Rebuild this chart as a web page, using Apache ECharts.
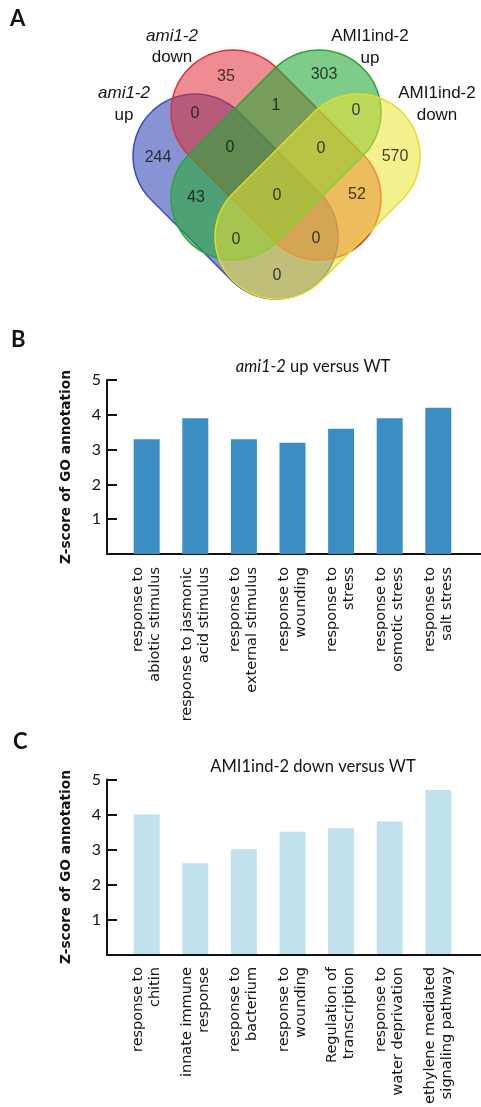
<!DOCTYPE html>
<html><head><meta charset="utf-8">
<script src="https://cdn.jsdelivr.net/npm/echarts@6/dist/echarts.min.js"></script>
<style>html,body{margin:0;padding:0;background:#fff}#c{width:481px;height:1107px}</style>
</head><body><div id="c"></div>
<script>
// ---------- DATA ----------
// Panel A: Venn diagram
const vennSetNames = ['ami1-2 up', 'ami1-2 down', 'AMI1ind-2 up', 'AMI1ind-2 down'];
const vennRegions = ['up only', 'down only', 'ind up only', 'ind down only',
  'up∩down', 'down∩indUp', 'indUp∩indDown', 'up∩down∩indUp', 'down∩indUp∩indDown',
  'up∩indUp', 'all four', 'down∩indDown', 'up∩indUp∩indDown', 'up∩down∩indDown', 'up∩indDown'];
const vennCounts = [244, 35, 303, 570, 0, 1, 0, 0, 0, 43, 0, 52, 0, 0, 0];

// Panel B
const categoriesB = ['response to\nabiotic stimulus', 'response to jasmonic\nacid stimulus',
  'response to\nexternal stimulus', 'response to\nwounding', 'response to\nstress',
  'response to\nosmotic stress', 'response to\nsalt stress'];
const zScoresB = [3.3, 3.9, 3.3, 3.2, 3.6, 3.9, 4.2];

// Panel C
const categoriesC = ['response to\nchitin', 'innate immune\nresponse', 'response to\nbacterium',
  'response to\nwounding', 'Regulation of\ntranscription', 'response to\nwater deprivation',
  'ethylene mediated\nsignaling pathway'];
const zScoresC = [4.0, 2.6, 3.0, 3.5, 3.6, 3.8, 4.7];

const yAxisMax = 5;
const yAxisStep = 1;

// ---------- LAYOUT / STYLE ----------
const vennShapes = [ // capsule end centres in the 481x310 venn plane, radius
  [195, 156, 276, 237, 62],
  [233, 112, 319, 198, 62],
  [319, 112, 233, 198, 62],
  [358, 156, 277, 237, 62]
];
const vennStyles = [
  { fill: 'rgba(55,75,180,0.6)', stroke: '#3b4fbf' },
  { fill: 'rgba(222,45,55,0.55)', stroke: '#e0343c' },
  { fill: 'rgba(40,170,55,0.6)', stroke: '#2aa43c' },
  { fill: 'rgba(236,228,50,0.55)', stroke: '#e2dc2a' }
];
const vennLabelPos = [[158,158],[226,77],[324,75],[395,157],[195,114],[276,106],[356,111],
  [230,148],[321,149],[196,198],[277,196],[357,195],[236,240],[316,239],[277,276]];

const FONT = 'Lato';
const RFONT = 'DejaVu Sans';
const VFONT = 'Liberation Sans';
const TXT = '#141414';
const barColorB = '#3a8ec4';
const barColorC = '#c2e1ef';

function frameAxes(gi) {
  return {
    x: { type: 'value', gridIndex: gi, min: 0, max: 1, axisLine: { show: true, onZero: false, lineStyle: { color: '#111', width: 2 } },
         axisTick: { show: false }, axisLabel: { show: false }, splitLine: { show: false } },
    y: { type: 'value', gridIndex: gi, min: 0, max: yAxisMax, interval: yAxisStep,
         axisLine: { show: true, lineStyle: { color: '#111', width: 2 } },
         axisTick: { show: true, inside: true, length: 10, lineStyle: { color: '#111', width: 2 } },
         axisLabel: { fontSize: 16, fontFamily: FONT, color: TXT, margin: 6, formatter: v => v === 0 ? '' : String(v) },
         splitLine: { show: false },
         name: 'Z-score of GO annotation', nameLocation: 'middle', nameGap: 34,
         nameTextStyle: { fontSize: 13.7, fontWeight: 'bold', fontFamily: RFONT, color: TXT } }
  };
}
function mainAxes(gi, cats) {
  return {
    x: { type: 'category', gridIndex: gi, data: cats, axisLine: { show: false }, axisTick: { show: false },
         axisLabel: { interval: 0, rotate: 90, fontSize: 14.5, lineHeight: 17, fontFamily: RFONT, color: TXT, margin: 13 } },
    y: { type: 'value', gridIndex: gi, min: 0, max: yAxisMax, show: false }
  };
}
const fB = frameAxes(1), mB = mainAxes(2, categoriesB), fC = frameAxes(3), mC = mainAxes(4, categoriesC);

const chart = echarts.init(document.getElementById('c'), null, { renderer: 'canvas' });
chart.setOption({
  animation: false,
  backgroundColor: '#fff',
  grid: [
    { left: 0, top: 0, width: 481, height: 310 },
    { left: 107, top: 380, width: 374, height: 174 },
    { left: 122.4, top: 380, width: 340.2, height: 174 },
    { left: 107, top: 779.5, width: 374, height: 175 },
    { left: 122.4, top: 779.5, width: 340.2, height: 175 }
  ],
  xAxis: [
    { type: 'value', gridIndex: 0, min: 0, max: 481, show: false },
    fB.x, mB.x, fC.x, mC.x
  ],
  yAxis: [
    { type: 'value', gridIndex: 0, min: 0, max: 310, inverse: true, show: false },
    fB.y, mB.y, fC.y, mC.y
  ],
  graphic: [
    { type: 'text', x: 10, y: 19, style: { text: 'A', fontSize: 22, fontWeight: 'bold', fontFamily: FONT, fill: '#111', verticalAlign: 'middle' } },
    { type: 'text', x: 11, y: 340, style: { text: 'B', fontSize: 22, fontWeight: 'bold', fontFamily: FONT, fill: '#111', verticalAlign: 'middle' } },
    { type: 'text', x: 13, y: 742, style: { text: 'C', fontSize: 22, fontWeight: 'bold', fontFamily: FONT, fill: '#111', verticalAlign: 'middle' } },
    { type: 'text', x: 124, y: 93, style: { text: 'ami1-2', fontSize: 17, fontStyle: 'italic', fontFamily: VFONT, fill: TXT, align: 'center', verticalAlign: 'middle' } },
    { type: 'text', x: 124, y: 115, style: { text: 'up', fontSize: 17, fontFamily: VFONT, fill: TXT, align: 'center', verticalAlign: 'middle' } },
    { type: 'text', x: 172, y: 36, style: { text: 'ami1-2', fontSize: 17, fontStyle: 'italic', fontFamily: VFONT, fill: TXT, align: 'center', verticalAlign: 'middle' } },
    { type: 'text', x: 172, y: 57, style: { text: 'down', fontSize: 17, fontFamily: VFONT, fill: TXT, align: 'center', verticalAlign: 'middle' } },
    { type: 'text', x: 370, y: 36, style: { text: 'AMI1ind-2', fontSize: 17, fontFamily: VFONT, fill: TXT, align: 'center', verticalAlign: 'middle' } },
    { type: 'text', x: 370, y: 58, style: { text: 'up', fontSize: 17, fontFamily: VFONT, fill: TXT, align: 'center', verticalAlign: 'middle' } },
    { type: 'text', x: 437, y: 93, style: { text: 'AMI1ind-2', fontSize: 17, fontFamily: VFONT, fill: TXT, align: 'center', verticalAlign: 'middle' } },
    { type: 'text', x: 437, y: 115, style: { text: 'down', fontSize: 17, fontFamily: VFONT, fill: TXT, align: 'center', verticalAlign: 'middle' } },
    { type: 'text', x: 313, y: 367, style: { text: '{i|ami1-2} up versus WT', fontSize: 16.5, fontFamily: FONT, fill: TXT, align: 'center', verticalAlign: 'middle',
        rich: { i: { fontStyle: 'italic', fontSize: 16.5, fontFamily: FONT, fill: TXT } } } },
    { type: 'text', x: 313, y: 767, style: { text: 'AMI1ind-2 down versus WT', fontSize: 16.5, fontFamily: FONT, fill: TXT, align: 'center', verticalAlign: 'middle' } }
  ],
  series: [
    {
      type: 'custom', xAxisIndex: 0, yAxisIndex: 0, silent: true,
      data: vennShapes,
      renderItem: function (params, api) {
        const a = api.coord([api.value(0), api.value(1)]);
        const b = api.coord([api.value(2), api.value(3)]);
        const r = api.size([api.value(4), 0])[0];
        const ang = Math.atan2(b[1] - a[1], b[0] - a[0]);
        const N = 48, pts = [];
        for (let i = 0; i <= N; i++) { const t = ang - Math.PI / 2 + Math.PI * i / N; pts.push([b[0] + r * Math.cos(t), b[1] + r * Math.sin(t)]); }
        for (let i = 0; i <= N; i++) { const t = ang + Math.PI / 2 + Math.PI * i / N; pts.push([a[0] + r * Math.cos(t), a[1] + r * Math.sin(t)]); }
        const s = vennStyles[params.dataIndex];
        return { type: 'polygon', shape: { points: pts }, style: { fill: s.fill, stroke: s.stroke, lineWidth: 1.5 } };
      }
    },
    {
      type: 'scatter', xAxisIndex: 0, yAxisIndex: 0, silent: true, symbolSize: 0, z: 5,
      data: vennLabelPos.map((p, i) => [p[0], p[1], vennCounts[i]]),
      label: { show: true, position: 'inside', formatter: p => String(p.value[2]), fontSize: 16, fontFamily: VFONT, color: '#111' }
    },
    { type: 'bar', xAxisIndex: 2, yAxisIndex: 2, data: zScoresB, barWidth: 26, itemStyle: { color: barColorB }, silent: true },
    { type: 'bar', xAxisIndex: 4, yAxisIndex: 4, data: zScoresC, barWidth: 26, itemStyle: { color: barColorC }, silent: true }
  ]
});
</script>
</body></html>
